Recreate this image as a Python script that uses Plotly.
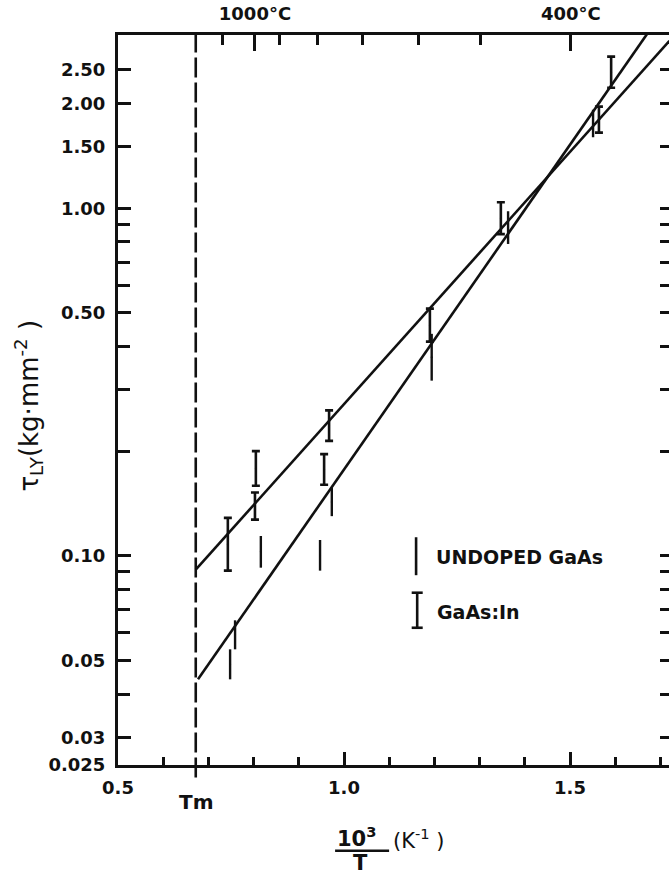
import numpy as np
import plotly.graph_objects as go

# ---------------- data ----------------
X_RANGE = [0.5, 1.719]
Y_RANGE = [0.025, 3.15]
TM = 0.672  # melting point 10^3/T

# GaAs:In  (x, low, high)
IN_X    = [0.743, 0.803, 0.805, 0.956, 0.967, 1.190, 1.347, 1.564, 1.591]
IN_LOW  = [0.0906, 0.127, 0.159, 0.160, 0.214, 0.413, 0.842, 1.65, 2.22]
IN_HIGH = [0.1285, 0.152, 0.200, 0.196, 0.262, 0.514, 1.04, 1.96, 2.73]

# UNDOPED GaAs  (x, low, high)
UND_X    = [0.748, 0.759, 0.816, 0.947, 0.973, 1.194, 1.363, 1.551]
UND_LOW  = [0.0441, 0.0538, 0.0924, 0.0906, 0.130, 0.319, 0.789, 1.60]
UND_HIGH = [0.0538, 0.0652, 0.114, 0.111, 0.157, 0.435, 0.98, 1.92]

# fitted lines
IN_FIT_X = [0.672, 1.72]
IN_FIT_Y = [0.0912, 3.03]
UND_FIT_X = [0.677, 1.70]
UND_FIT_Y = [0.0441, 3.6]

# axis ticks
X_MAJOR = [0.5, 1.0, 1.5]
X_MAJOR_TEXT = ["0.5", "1.0", "1.5"]
Y_MAJOR = [0.025, 0.03, 0.05, 0.10, 0.50, 1.00, 1.50, 2.00, 2.50]
Y_MAJOR_TEXT = ["0.025", "0.03", "0.05", "0.10", "0.50", "1.00", "1.50", "2.00", "2.50"]
Y_MINOR = [0.04, 0.06, 0.07, 0.08, 0.09, 0.2, 0.3, 0.4, 0.6, 0.7, 0.8, 0.9]
Y_RIGHT = [0.03, 0.04, 0.05, 0.06, 0.07, 0.08, 0.09, 0.1, 0.2, 0.3, 0.4, 0.5,
           0.6, 0.7, 0.8, 0.9, 1.0, 1.5, 2.0, 2.5]
TOP_LONG_POS = [0.803, 1.502]
TOP_LONG_TEXT = ["1000°C", "400°C"]
TOP_SHORT_POS = [0.732, 0.858, 0.942, 1.042, 1.164, 1.303]

# ---------------- figure ----------------
FONT = "DejaVu Sans"
BLACK = "#111111"


def bars(x, low, high):
    low = np.array(low)
    high = np.array(high)
    c = np.sqrt(low * high)
    return c, high - c, c - low


fig = go.Figure()

fig.add_trace(go.Scatter(x=IN_FIT_X, y=IN_FIT_Y, mode="lines",
                         line=dict(color=BLACK, width=2.6), showlegend=False,
                         hoverinfo="skip"))
fig.add_trace(go.Scatter(x=UND_FIT_X, y=UND_FIT_Y, mode="lines",
                         line=dict(color=BLACK, width=2.6), showlegend=False,
                         hoverinfo="skip"))

c, p, m = bars(IN_X, IN_LOW, IN_HIGH)
fig.add_trace(go.Scatter(x=IN_X, y=c, mode="markers",
                         marker=dict(size=2, color=BLACK),
                         error_y=dict(type="data", symmetric=False, array=p,
                                      arrayminus=m, color=BLACK, thickness=2.6,
                                      width=4),
                         name="GaAs:In", showlegend=False))

c, p, m = bars(UND_X, UND_LOW, UND_HIGH)
fig.add_trace(go.Scatter(x=UND_X, y=c, mode="markers",
                         marker=dict(size=2, color=BLACK),
                         error_y=dict(type="data", symmetric=False, array=p,
                                      arrayminus=m, color=BLACK, thickness=2.4,
                                      width=0),
                         name="UNDOPED GaAs", showlegend=False))

# dummy traces so overlay axes get drawn
fig.add_trace(go.Scatter(x=[None], y=[None], xaxis="x2", yaxis="y2",
                         showlegend=False, hoverinfo="skip"))
fig.add_trace(go.Scatter(x=[None], y=[None], xaxis="x3", yaxis="y3",
                         showlegend=False, hoverinfo="skip"))

tickfont = dict(family=FONT, size=18, color=BLACK, weight="bold")
lyr = [np.log10(Y_RANGE[0]), np.log10(Y_RANGE[1])]

fig.update_layout(
    width=672, height=875,
    margin=dict(l=118, r=3, t=35, b=110),
    paper_bgcolor="white", plot_bgcolor="white",
    showlegend=False,
    xaxis=dict(range=X_RANGE, showgrid=False, zeroline=False,
               showline=True, linecolor=BLACK, linewidth=3,
               ticks="inside", ticklen=13, tickwidth=2.5, tickcolor=BLACK,
               tickvals=X_MAJOR, ticktext=X_MAJOR_TEXT, tickfont=tickfont,
               ticklabelstandoff=4,
               minor=dict(ticks="inside", ticklen=8, tickwidth=2.5,
                          tickcolor=BLACK, dtick=0.1, tick0=0.5,
                          showgrid=False)),
    xaxis2=dict(range=X_RANGE, overlaying="x", side="top", anchor="y",
                showgrid=False, zeroline=False, showline=True,
                linecolor=BLACK, linewidth=3,
                ticks="inside", ticklen=16, tickwidth=2.5, tickcolor=BLACK,
                tickvals=TOP_LONG_POS, ticktext=TOP_LONG_TEXT,
                tickfont=tickfont, ticklabelstandoff=5),
    xaxis3=dict(range=X_RANGE, overlaying="x", side="top", anchor="y",
                showgrid=False, zeroline=False, showline=False,
                ticks="inside", ticklen=10, tickwidth=2.5, tickcolor=BLACK,
                tickvals=TOP_SHORT_POS, showticklabels=False),
    yaxis=dict(type="log", range=lyr, showgrid=False, zeroline=False,
               showline=True, linecolor=BLACK, linewidth=3,
               ticks="inside", ticklen=13, tickwidth=2.5, tickcolor=BLACK,
               tickvals=Y_MAJOR, ticktext=Y_MAJOR_TEXT,
               tickfont=tickfont, ticklabelstandoff=6),
    yaxis3=dict(type="log", range=lyr, overlaying="y", side="left",
                anchor="x", showgrid=False, zeroline=False, showline=False,
                ticks="inside", ticklen=12, tickwidth=2.5, tickcolor=BLACK,
                tickvals=Y_MINOR, showticklabels=False),
    yaxis2=dict(type="log", range=lyr, overlaying="y", side="right",
                anchor="x", showgrid=False, zeroline=False, showline=False,
                ticks="inside", ticklen=9, tickwidth=2.5, tickcolor=BLACK,
                tickvals=Y_RIGHT, showticklabels=False),
)

# melting point dashed line
fig.add_shape(type="line", xref="x", yref="paper", x0=TM, x1=TM,
              y0=-0.017, y1=1, line=dict(color=BLACK, width=2.6,
                                          dash="20px,5px"))

# legend (drawn in paper coordinates)
fig.add_shape(type="line", xref="paper", yref="paper", x0=0.541, x1=0.541,
              y0=0.260, y1=0.312, line=dict(color=BLACK, width=2.6))
fig.add_shape(type="line", xref="paper", yref="paper", x0=0.543, x1=0.543,
              y0=0.188, y1=0.236, line=dict(color=BLACK, width=2.6))
for yy in (0.188, 0.236):
    fig.add_shape(type="line", xref="paper", yref="paper", x0=0.533,
                  x1=0.553, y0=yy, y1=yy, line=dict(color=BLACK, width=2.6))

legfont = dict(family=FONT, size=19, color=BLACK, weight="bold")
fig.add_annotation(xref="paper", yref="paper", x=0.573, y=0.285,
                   xanchor="left", yanchor="middle", text="UNDOPED GaAs",
                   showarrow=False, font=legfont)
fig.add_annotation(xref="paper", yref="paper", x=0.575, y=0.210,
                   xanchor="left", yanchor="middle", text="GaAs:In",
                   showarrow=False, font=legfont)

# Tm label
fig.add_annotation(xref="x", yref="paper", x=TM, y=-0.0507,
                   xanchor="center", yanchor="middle", text="Tm",
                   showarrow=False, font=dict(family=FONT, size=20,
                                              color=BLACK, weight="bold"))

# y-axis title
fig.add_annotation(xref="paper", yref="paper", x=-0.162, y=0.492,
                   xanchor="center", yanchor="middle", textangle=-90,
                   text="τ<sub>LY</sub>(kg·mm<sup>-2</sup> )",
                   showarrow=False,
                   font=dict(family=FONT, size=26, color=BLACK))

# x-axis title as fraction
xfont = dict(family=FONT, size=21, color=BLACK, weight="bold")
fig.add_annotation(xref="paper", yref="paper", x=0.394, y=-0.0985,
                   xanchor="left", yanchor="middle", text="10<sup>3</sup>",
                   showarrow=False, font=xfont)
fig.add_shape(type="line", xref="paper", yref="paper", x0=0.394, x1=0.492,
              y0=-0.1175, y1=-0.1175, line=dict(color=BLACK, width=2.6))
fig.add_annotation(xref="paper", yref="paper", x=0.441, y=-0.1345,
                   xanchor="center", yanchor="middle", text="T",
                   showarrow=False, font=xfont)
fig.add_annotation(xref="paper", yref="paper", x=0.4955, y=-0.1015,
                   xanchor="left", yanchor="middle",
                   text="(K<sup>-1</sup> )", showarrow=False,
                   font=dict(family=FONT, size=21, color=BLACK))

fig.write_html("out.html")
